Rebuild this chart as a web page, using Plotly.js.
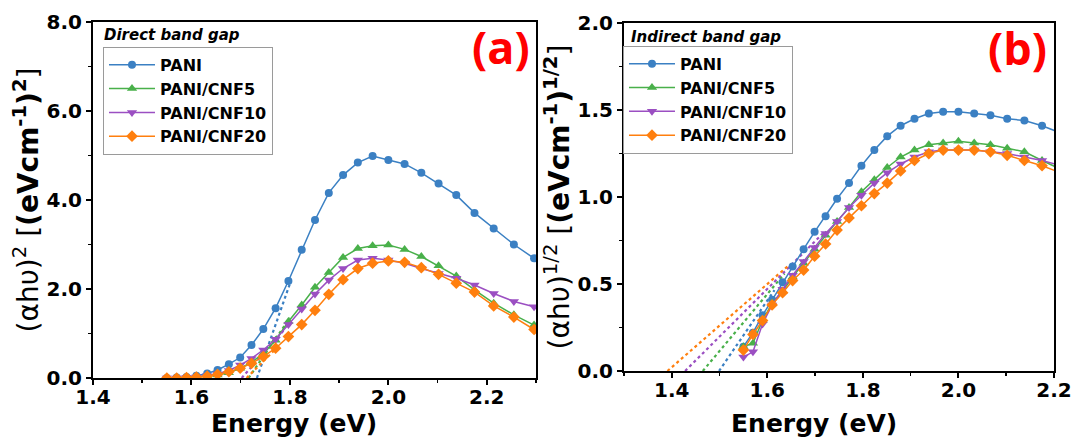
<!DOCTYPE html>
<html><head><meta charset="utf-8">
<script src="https://cdn.plot.ly/plotly-3.0.1.min.js"></script>
<style>html,body{margin:0;padding:0;background:#fff}#chart{width:1073px;height:441px}</style>
</head><body><div id="chart"></div>
<script>
// Photon energy (eV)
const energy = [1.550, 1.570, 1.590, 1.610, 1.632, 1.653, 1.676, 1.699, 1.722, 1.746, 1.771, 1.797, 1.824, 1.851, 1.879, 1.908, 1.938, 1.968, 2.000, 2.033, 2.067, 2.102, 2.138, 2.175, 2.214, 2.255, 2.296];
const seriesNames = ['PANI', 'PANI/CNF5', 'PANI/CNF10', 'PANI/CNF20'];

// (a) Direct band gap: (alpha h nu)^2
const pani_direct   = [0.00, 0.01, 0.02, 0.05, 0.10, 0.18, 0.31, 0.46, 0.74, 1.10, 1.57, 2.18, 2.88, 3.55, 4.16, 4.56, 4.84, 4.99, 4.90, 4.81, 4.61, 4.37, 4.11, 3.71, 3.36, 3.00, 2.69];
const cnf5_direct   = [0.00, 0.00, 0.01, 0.02, 0.04, 0.07, 0.12, 0.22, 0.35, 0.55, 0.85, 1.27, 1.64, 2.04, 2.37, 2.71, 2.91, 2.97, 2.99, 2.89, 2.73, 2.52, 2.29, 1.98, 1.68, 1.42, 1.19];
const cnf10_direct  = [0.00, 0.00, 0.01, 0.02, 0.05, 0.09, 0.17, 0.29, 0.44, 0.63, 0.87, 1.20, 1.55, 1.89, 2.20, 2.46, 2.65, 2.69, 2.65, 2.58, 2.46, 2.35, 2.24, 2.09, 1.90, 1.72, 1.60];
const cnf20_direct  = [0.00, 0.00, 0.01, 0.02, 0.04, 0.08, 0.14, 0.22, 0.33, 0.48, 0.67, 0.93, 1.20, 1.52, 1.88, 2.21, 2.46, 2.58, 2.63, 2.60, 2.48, 2.33, 2.13, 1.93, 1.62, 1.37, 1.09];

// (b) Indirect band gap: (alpha h nu)^(1/2)
const pani_indirect  = [0.14, 0.22, 0.32, 0.41, 0.51, 0.60, 0.70, 0.80, 0.89, 0.99, 1.08, 1.18, 1.27, 1.35, 1.41, 1.45, 1.48, 1.49, 1.49, 1.48, 1.47, 1.45, 1.44, 1.41, 1.37, 1.33, 1.28];
const cnf5_indirect  = [0.14, 0.16, 0.29, 0.39, 0.46, 0.54, 0.62, 0.70, 0.78, 0.86, 0.94, 1.03, 1.10, 1.17, 1.23, 1.27, 1.30, 1.31, 1.32, 1.31, 1.30, 1.28, 1.26, 1.21, 1.16, 1.12, 1.07];
const cnf10_indirect = [0.08, 0.11, 0.27, 0.38, 0.47, 0.55, 0.63, 0.71, 0.79, 0.86, 0.94, 1.01, 1.08, 1.14, 1.19, 1.23, 1.26, 1.27, 1.27, 1.27, 1.26, 1.25, 1.23, 1.21, 1.18, 1.15, 1.12];
const cnf20_indirect = [0.12, 0.21, 0.29, 0.38, 0.45, 0.52, 0.58, 0.66, 0.73, 0.81, 0.88, 0.95, 1.02, 1.08, 1.15, 1.21, 1.25, 1.27, 1.27, 1.27, 1.26, 1.24, 1.21, 1.18, 1.14, 1.10, 1.05];

// Linear-fit extrapolation segments [x0, x1], [y0, y1]
const fitX_direct   = [[1.733, 1.801], [1.716, 1.800], [1.702, 1.790], [1.712, 1.780]];
const fitY_direct   = [[0, 2.15], [0, 1.35], [0, 1.10], [0, 0.75]];
const fitX_indirect = [[1.499, 1.615], [1.465, 1.636], [1.428, 1.716], [1.391, 1.646]];
const fitY_indirect = [[0, 0.465], [0, 0.56], [0, 0.79], [0, 0.61]];

const colors = ['#3b80c3', '#49b04a', '#9b4fc2', '#ff7f0e'];
const symbols = ['circle', 'triangle-up', 'triangle-down', 'diamond'];
const msizes = [8, 9, 9, 9];
const F = 'DejaVu Sans';

const directSets = [pani_direct, cnf5_direct, cnf10_direct, cnf20_direct];
const indirectSets = [pani_indirect, cnf5_indirect, cnf10_indirect, cnf20_indirect];

const traces = [];
function addPanel(sets, fitX, fitY, xa, ya, leg) {
  for (let i = 0; i < 4; i++) {
    traces.push({x: fitX[i], y: fitY[i], xaxis: xa, yaxis: ya, mode: 'lines', showlegend: false,
      line: {color: colors[i], width: 2.2, dash: 'dot'}, hoverinfo: 'skip'});
  }
  for (let i = 0; i < 4; i++) {
    traces.push({x: energy, y: sets[i], xaxis: xa, yaxis: ya, mode: 'lines+markers', name: seriesNames[i],
      legend: leg, line: {color: colors[i], width: 1.5},
      marker: {symbol: symbols[i], size: msizes[i], color: colors[i]}});
  }
}
addPanel(directSets, fitX_direct, fitY_direct, 'x', 'y', 'legend');
addPanel(indirectSets, fitX_indirect, fitY_indirect, 'x2', 'y2', 'legend2');

const tickFont = {family: F, size: 20, weight: 'bold', color: '#000'};
function xAxis(domain, range, anchor) {
  return {domain, range, anchor, tick0: 1.4, dtick: 0.2, tickformat: '.1f', ticks: 'outside', ticklen: 5, tickwidth: 2,
    tickcolor: '#000', showline: true, linewidth: 2, linecolor: '#000', mirror: true, showgrid: false, zeroline: false,
    ticklabelstandoff: -5,
    tickfont: tickFont, minor: {dtick: 0.1, tick0: 1.4, ticks: 'outside', ticklen: 3, tickwidth: 1.5, tickcolor: '#000'}};
}
function yAxis(domain, range, dtick, anchor, title) {
  return {domain, range, anchor, tick0: 0, dtick, tickformat: '.1f', ticks: 'outside', ticklen: 5, tickwidth: 2,
    tickcolor: '#000', showline: true, linewidth: 2, linecolor: '#000', mirror: true, showgrid: false, zeroline: false,
    tickfont: tickFont, minor: {dtick: dtick / 2, ticks: 'outside', ticklen: 3, tickwidth: 1.5, tickcolor: '#000'},
    title: {text: title, font: {family: F, size: 28, color: '#000'}, standoff: 0}};
}

const legendBase = {bgcolor: '#fff', bordercolor: '#9a9a9a', borderwidth: 1, xanchor: 'left', yanchor: 'top',
  font: {family: F, size: 16, weight: 'bold', color: '#000'}, itemwidth: 46, tracegroupgap: 0};

const xTitleFont = {family: F, size: 25, weight: 'bold', color: '#000'};

const layout = {
  width: 1073, height: 441, paper_bgcolor: '#fff', plot_bgcolor: '#fff', showlegend: true,
  margin: {l: 93, r: 19, t: 22, b: 63},
  xaxis: xAxis([0, 0.461], [1.4, 2.3], 'y'),
  yaxis: yAxis([0, 1], [0, 8], 2, 'x', '(αhυ)<sup>2</sup> [<b>(eVcm<sup>-1</sup>)<sup>2</sup></b>]'),
  xaxis2: xAxis([0.5525, 1], [1.3, 2.2], 'y2'),
  yaxis2: yAxis([0.0197, 0.997], [0, 2], 0.5, 'x2', '(αhυ)<sup>1/2</sup> [<b>(eVcm<sup>-1</sup>)<sup>1/2</sup></b>]'),
  legend: Object.assign({x: 0.0104, y: 0.93}, legendBase),
  legend2: Object.assign({x: 0.5515, y: 0.933}, legendBase),
  annotations: [
    {text: 'Energy (eV)', xref: 'paper', yref: 'paper', x: 0.209, y: -0.128, xanchor: 'center', yanchor: 'middle', showarrow: false, font: xTitleFont},
    {text: 'Energy (eV)', xref: 'paper', yref: 'paper', x: 0.750, y: -0.128, xanchor: 'center', yanchor: 'middle', showarrow: false, font: xTitleFont},
    {text: '<b><i>Direct band gap</i></b>', xref: 'paper', yref: 'paper', x: 0.0094, y: 0.9635, xanchor: 'left', yanchor: 'middle', showarrow: false, font: {family: F, size: 15, color: '#000'}},
    {text: '<b><i>Indirect band gap</i></b>', xref: 'paper', yref: 'paper', x: 0.5578, y: 0.958, xanchor: 'left', yanchor: 'middle', showarrow: false, font: {family: F, size: 15, color: '#000'}},
    {text: '<b>(a)</b>', xref: 'paper', yref: 'paper', x: 0.4246, y: 0.932, xanchor: 'center', yanchor: 'middle', showarrow: false, font: {family: 'Open Sans', size: 45, color: '#ff0000'}},
    {text: '<b>(b)</b>', xref: 'paper', yref: 'paper', x: 0.9625, y: 0.927, xanchor: 'center', yanchor: 'middle', showarrow: false, font: {family: 'Open Sans', size: 45, color: '#ff0000'}}
  ]
};

Plotly.newPlot('chart', traces, layout, {staticPlot: true, displayModeBar: false});
</script></body></html>
